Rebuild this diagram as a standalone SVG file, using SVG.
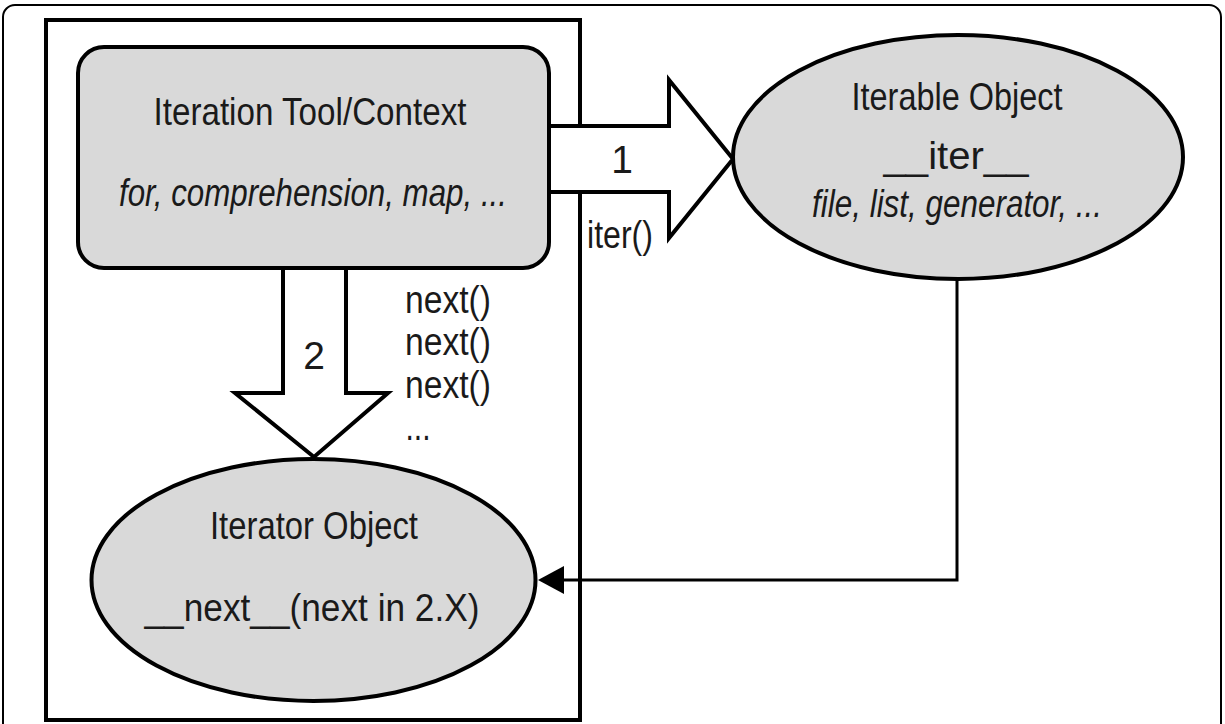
<svg xmlns="http://www.w3.org/2000/svg" width="1225" height="724" viewBox="0 0 1225 724">
<defs>
<style>
.t{font-family:"Liberation Sans",Arial,sans-serif;font-size:39px;fill:#1a1a1a;text-anchor:middle}
.i{font-style:italic}
.node{fill:#d9d9d9;stroke:#000;stroke-width:4}
.blk{fill:#fff;stroke:#000;stroke-width:4;stroke-linejoin:miter}
</style>
</defs>
<rect x="3" y="5" width="1218" height="740" rx="12" fill="#fff" stroke="#000" stroke-width="2"/>
<rect id="context-box" x="46" y="20" width="534" height="700" fill="none" stroke="#000" stroke-width="4"/>
<g id="connectors">
<path class="blk" d="M549,126 H669 V80 L733,159 L669,238 V192 H549"/>
<path class="blk" d="M283,268 V393 H235 L314,457 L388,393 H346 V268"/>
<path d="M957,280 V580 H564" fill="none" stroke="#000" stroke-width="3"/>
<path d="M538,580 L564,566 L564,594 Z" fill="#000"/>
<text class="t" x="622" y="173" font-size="35">1</text>
<text class="t" x="620" y="248" textLength="66" lengthAdjust="spacingAndGlyphs">iter()</text>
<text class="t" x="314" y="369" font-size="35">2</text>
<text class="t" x="448" y="313" textLength="86" lengthAdjust="spacingAndGlyphs">next()</text>
<text class="t" x="448" y="355" textLength="86" lengthAdjust="spacingAndGlyphs">next()</text>
<text class="t" x="448" y="398" textLength="86" lengthAdjust="spacingAndGlyphs">next()</text>
<text class="t" x="418" y="440" textLength="25" lengthAdjust="spacingAndGlyphs">...</text>
</g>
<g id="iteration-tool">
<rect class="node" x="78" y="47" width="471" height="221" rx="26"/>
<text class="t" x="310" y="125" textLength="313" lengthAdjust="spacingAndGlyphs">Iteration Tool/Context</text>
<text class="t i" x="313" y="206" textLength="388" lengthAdjust="spacingAndGlyphs">for, comprehension, map, ...</text>
</g>
<g id="iterable-object">
<ellipse class="node" cx="958" cy="157" rx="225" ry="122"/>
<text class="t" x="957" y="110" textLength="211" lengthAdjust="spacingAndGlyphs">Iterable Object</text>
<text class="t" x="956" y="169" textLength="145" lengthAdjust="spacingAndGlyphs">__iter__</text>
<text class="t i" x="957" y="217" textLength="290" lengthAdjust="spacingAndGlyphs">file, list, generator, ...</text>
</g>
<g id="iterator-object">
<ellipse class="node" cx="313.5" cy="580" rx="222" ry="121"/>
<text class="t" x="314" y="539" textLength="208" lengthAdjust="spacingAndGlyphs">Iterator Object</text>
<text class="t" x="312" y="621" textLength="335" lengthAdjust="spacingAndGlyphs">__next__(next in 2.X)</text>
</g>
</svg>
